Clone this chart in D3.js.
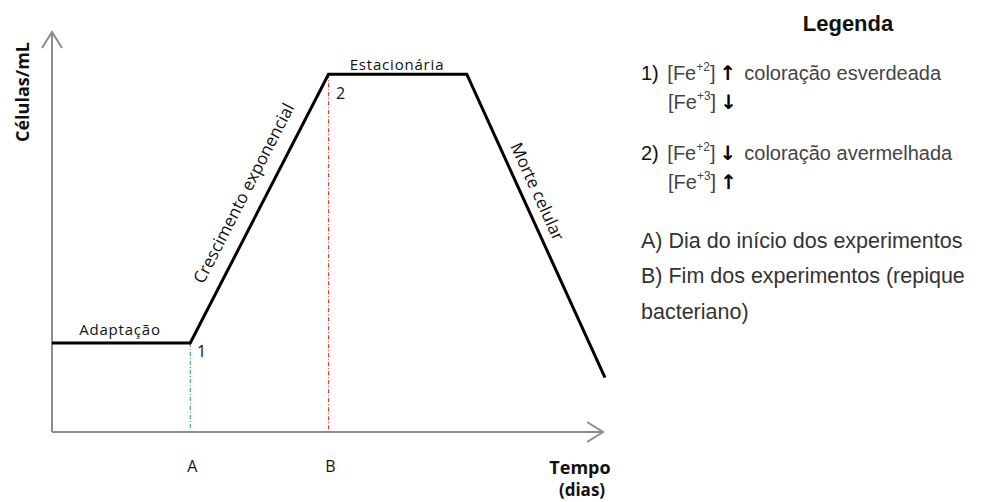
<!DOCTYPE html>
<html><head><meta charset="utf-8">
<script src="https://cdn.jsdelivr.net/npm/d3@7"></script>
<style>body{margin:0;background:#fff}</style>
</head><body><svg id="c" width="985" height="502"></svg>
<script>
// Growth curve phases (time in arbitrary units, cells/mL in arbitrary units)
const curveTime = [0, 1, 2, 3, 4];
const curveCells = [1, 1, 4.02, 4.02, 0.61];
const markTime = [1, 2];
const markLabels = ["A", "B"];
const markColors = ["#1a9a50", "#ff3030"];
const phaseLabels = ["Adaptação", "Crescimento exponencial", "Estacionária", "Morte celular"];
const legendLines = [
  "A) Dia do início dos experimentos",
  "B) Fim dos experimentos (repique",
  "bacteriano)"
];

const svg = d3.select("#c");
const x = d3.scaleLinear().domain([0, 4]).range([52, 605]);
const y = d3.scaleLinear().domain([0, 4.5]).range([432, 31.5]);

// axes
const axisColor = "#8c8c8c";
svg.append("line").attr("x1", x(0)).attr("x2", 603).attr("y1", y(0)).attr("y2", y(0))
  .attr("stroke", axisColor).attr("stroke-width", 2);
svg.append("line").attr("x1", x(0)).attr("x2", x(0)).attr("y1", y(0)).attr("y2", 32)
  .attr("stroke", axisColor).attr("stroke-width", 2);
svg.append("path").attr("d", `M${x(0)-10},${48} L${x(0)},${32} L${x(0)+10},${48}`)
  .attr("fill", "none").attr("stroke", axisColor).attr("stroke-width", 2);
svg.append("path").attr("d", `M587,${y(0)-10} L603,${y(0)} L587,${y(0)+10}`)
  .attr("fill", "none").attr("stroke", axisColor).attr("stroke-width", 2);

const f = "Open Sans, sans-serif";
// vertical markers
markTime.forEach((t, i) => {
  const yi = y(curveCells[i + 1]);
  svg.append("line").attr("x1", x(t)).attr("x2", x(t)).attr("y1", yi).attr("y2", y(0) - 2)
    .attr("stroke", markColors[i]).attr("stroke-width", 1).attr("stroke-dasharray", "4,2,1,2");
  svg.append("text").attr("x", x(t) + 2).attr("y", 472).attr("text-anchor", "middle")
    .attr("font-family", f).attr("font-size", 16).attr("fill", "#111")
    .text(markLabels[i]);
});

// curve
const pts = curveTime.map((t, i) => [x(t), y(curveCells[i])]);
svg.append("path").attr("d", d3.line()(pts)).attr("fill", "none")
  .attr("stroke", "#000").attr("stroke-width", 3).attr("stroke-linejoin", "miter");

// phase labels
svg.append("text").attr("x", 120).attr("y", 335).attr("text-anchor", "middle")
  .attr("font-family", f).attr("font-size", 15).attr("letter-spacing", 0.8).attr("fill", "#111").text(phaseLabels[0]);
svg.append("text").attr("x", 397).attr("y", 70).attr("text-anchor", "middle")
  .attr("font-family", f).attr("font-size", 15).attr("letter-spacing", 0.8).attr("fill", "#111").text(phaseLabels[2]);
// rotated labels
{
  const [a, b] = [pts[1], pts[2]];
  const ang = Math.atan2(b[1] - a[1], b[0] - a[0]) * 180 / Math.PI;
  svg.append("text").attr("transform", `translate(249,196) rotate(${ang})`)
    .attr("text-anchor", "middle").attr("font-family", f).attr("font-size", 17).attr("fill", "#111")
    .text(phaseLabels[1]);
}
{
  const [a, b] = [pts[3], pts[4]];
  const ang = Math.atan2(b[1] - a[1], b[0] - a[0]) * 180 / Math.PI;
  svg.append("text").attr("transform", `translate(532,194) rotate(${ang})`)
    .attr("text-anchor", "middle").attr("font-family", f).attr("font-size", 17).attr("fill", "#111")
    .text(phaseLabels[3]);
}
svg.append("text").attr("x", 197).attr("y", 357).attr("font-family", f).attr("font-size", 16).attr("fill", "#111").text("1");
svg.append("text").attr("x", 336).attr("y", 99).attr("font-family", f).attr("font-size", 16).attr("fill", "#111").text("2");

// axis titles
svg.append("text").attr("transform", "translate(29,92) rotate(-90)").attr("text-anchor", "middle")
  .attr("font-family", f).attr("font-weight", "bold").attr("font-size", 18).attr("fill", "#111").text("Células/mL");
svg.append("text").attr("x", 580).attr("y", 474).attr("text-anchor", "middle")
  .attr("font-family", f).attr("font-weight", "bold").attr("font-size", 18).attr("fill", "#111").text("Tempo");
svg.append("text").attr("x", 582).attr("y", 496).attr("text-anchor", "middle")
  .attr("font-family", f).attr("font-weight", "bold").attr("font-size", 17).attr("fill", "#111").text("(dias)");

// legend
const lf = "Liberation Sans, Arial, sans-serif";
svg.append("text").attr("x", 848).attr("y", 31).attr("text-anchor", "middle")
  .attr("font-family", lf).attr("font-weight", "bold").attr("font-size", 22).attr("fill", "#111").text("Legenda");

function fe(xp, yp, prefix, sup, arrow, tail) {
  const g = svg.append("g");
  const t = g.append("text").attr("x", xp).attr("y", yp).attr("font-family", lf)
    .attr("font-size", 20).attr("fill", "#444");
  if (prefix) t.append("tspan").attr("fill", "#111").text(prefix);
  t.append("tspan").attr("dx", prefix ? 3 : 0).text("[Fe");
  t.append("tspan").attr("font-size", 12).attr("dy", -9).text(sup);
  t.append("tspan").attr("dy", 9).text("]");
  t.append("tspan").attr("fill", "#000").attr("font-family", "DejaVu Sans, sans-serif")
    .attr("font-weight", "bold").attr("font-size", 20).attr("dx", 4).text(arrow);
  if (tail) t.append("tspan").attr("dx", 8).text(tail);
}
fe(641, 80, "1) ", "+2", "↑", "coloração esverdeada");
fe(668, 109, "", "+3", "↓", "");
fe(641, 160, "2) ", "+2", "↓", "coloração avermelhada");
fe(668, 189, "", "+3", "↑", "");

legendLines.forEach((s, i) => {
  svg.append("text").attr("x", 641).attr("y", [248, 283, 319][i]).attr("font-family", lf)
    .attr("font-size", 21.5).attr("fill", "#333").text(s);
});
</script></body></html>
